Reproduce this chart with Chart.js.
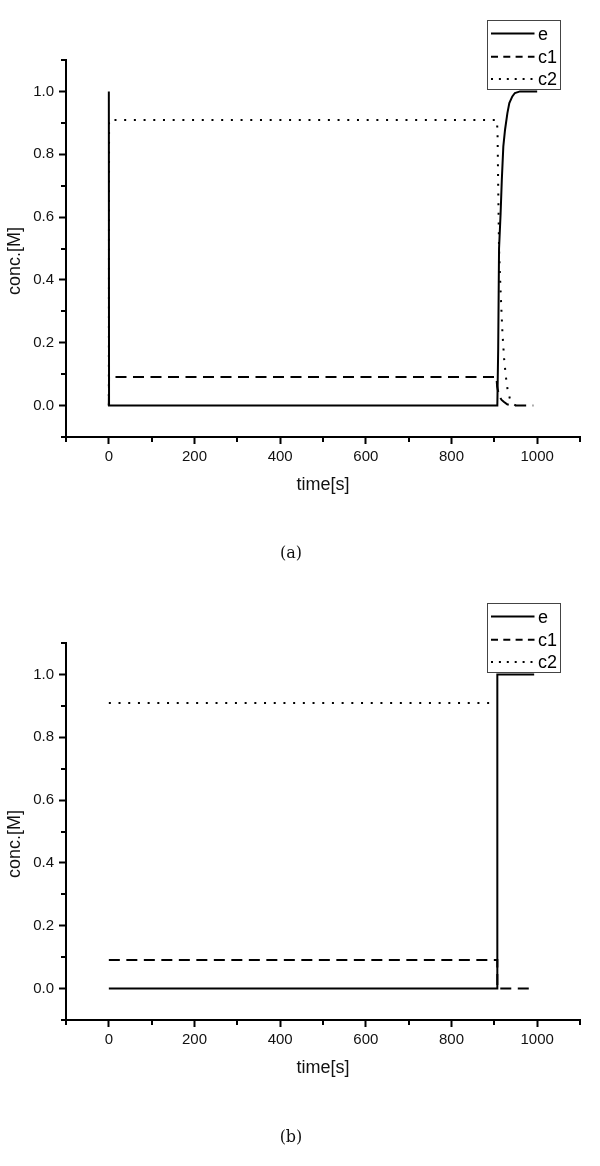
<!DOCTYPE html>
<html><head><meta charset="utf-8">
<script src="https://cdn.jsdelivr.net/npm/chart.js@4"></script>
<style>
html,body{margin:0;padding:0;background:#fff;}
#wrap{position:relative;width:600px;height:1166px;overflow:hidden;}
canvas{position:absolute;left:0;}
.cap{position:absolute;font-family:"DejaVu Serif","Liberation Serif",serif;font-size:16px;color:#111;width:100px;text-align:center;line-height:20px;}
</style></head><body>
<div id="wrap">
<canvas id="ca" width="600" height="583" style="top:0"></canvas>
<canvas id="cb" width="600" height="583" style="top:583px"></canvas>
<div class="cap" style="left:241px;top:543px">(a)</div>
<div class="cap" style="left:241px;top:1127px">(b)</div>
</div>
<script>
// ---- data ----
const seriesLabels = ['e', 'c1', 'c2'];
const xMajorTicks = [0, 200, 400, 600, 800, 1000];
const yMajorTicks = [0.0, 0.2, 0.4, 0.6, 0.8, 1.0];
const xAxisTitle = 'time[s]';
const yAxisTitle = 'conc.[M]';

// panel (a)
const timeA_e  = [0, 0.5, 907, 909, 911, 914.6, 917.5, 921, 925, 930.5, 935, 942, 948, 960, 1000];
const valA_e   = [1.0, 0, 0, 0.18, 0.5, 0.61, 0.72, 0.825, 0.878, 0.931, 0.963, 0.984, 0.995, 1.0, 1.0];
const timeA_c1 = [0, 0.5, 905, 906.5, 908, 912, 917, 922, 930, 940, 955, 991];
const valA_c1  = [0, 0.0909, 0.0909, 0.06, 0.05, 0.029, 0.018, 0.012, 0.004, 0.001, 0, 0];
const timeA_c2 = [0, 0.5, 906, 907.5, 909, 911, 913, 916, 919, 923, 927, 931, 937, 944, 950];
const valA_c2  = [0, 0.909, 0.909, 0.87, 0.7, 0.5, 0.42, 0.32, 0.23, 0.146, 0.092, 0.05, 0.018, 0.006, 0];

// panel (b)
const timeB_e  = [0, 907, 907, 993];
const valB_e   = [0, 0, 1.0, 1.0];
const timeB_c1 = [0, 907, 907, 990];
const valB_c1  = [0.0909, 0.0909, 0, 0];
const timeB_c2 = [0, 905];
const valB_c2  = [0.909, 0.909];

// ---- helpers ----
const FONT = '"Liberation Sans", Arial, Helvetica, sans-serif';
const zip = (xs, ys) => xs.map((x, i) => ({x: x, y: ys[i]}));
const isXMajor = v => xMajorTicks.some(t => Math.abs(t - v) < 1e-6);
const isYMajor = v => yMajorTicks.some(t => Math.abs(t - v) < 1e-6);

const styles = [
  {dash: [], legendDash: []},
  {dash: [11, 6.5], legendDash: [7, 5.3]},
  {dash: [2, 7.7], legendDash: [2, 5.9]}
];

const minorTicks = {
  id: 'minorTicks',
  afterDraw(chart) {
    const ctx = chart.ctx, xs = chart.scales.x, ys = chart.scales.y, a = chart.chartArea;
    ctx.save();
    ctx.strokeStyle = '#000';
    ctx.lineWidth = 2;
    xs.ticks.forEach(t => {
      if (!isXMajor(t.value)) {
        const px = Math.round(xs.getPixelForValue(t.value));
        ctx.beginPath(); ctx.moveTo(px, a.bottom); ctx.lineTo(px, a.bottom + 5); ctx.stroke();
      }
    });
    ys.ticks.forEach(t => {
      if (!isYMajor(t.value)) {
        const py = Math.round(ys.getPixelForValue(t.value));
        ctx.beginPath(); ctx.moveTo(a.left, py); ctx.lineTo(a.left - 5, py); ctx.stroke();
      }
    });
    ctx.restore();
  }
};

const boxLegend = {
  id: 'boxLegend',
  afterDraw(chart) {
    const ctx = chart.ctx;
    const L = 487.5, T = 20.5, W = 73, H = 69;
    const rowY = [33.5, 56.8, 79];
    ctx.save();
    ctx.fillStyle = '#fff';
    ctx.fillRect(L, T, W, H);
    ctx.strokeStyle = '#444'; ctx.lineWidth = 1; ctx.setLineDash([]);
    ctx.strokeRect(L, T, W, H);
    chart.data.datasets.forEach((ds, i) => {
      const y = rowY[i];
      ctx.setLineDash(styles[i].legendDash);
      ctx.lineWidth = 2; ctx.strokeStyle = '#000';
      ctx.beginPath(); ctx.moveTo(491, y); ctx.lineTo(534.5, y); ctx.stroke();
      ctx.setLineDash([]);
      ctx.fillStyle = '#000';
      ctx.font = '18px ' + FONT;
      ctx.textBaseline = 'alphabetic';
      ctx.textAlign = 'left';
      ctx.fillText(ds.label, 538, y + 6);
    });
    ctx.restore();
  }
};

function makeChart(id, series) {
  const datasets = series.map((s, i) => ({
    label: seriesLabels[i],
    data: zip(s[0], s[1]),
    borderColor: '#000',
    backgroundColor: '#000',
    borderWidth: 2,
    borderDash: styles[i].dash,
    borderCapStyle: 'butt',
    pointRadius: 0,
    tension: 0,
    fill: false
  }));
  return new Chart(document.getElementById(id), {
    type: 'line',
    data: {datasets: datasets},
    plugins: [minorTicks, boxLegend],
    options: {
      responsive: false,
      animation: false,
      devicePixelRatio: 1,
      layout: {padding: {left: 0, right: 20, top: 60, bottom: 0}},
      plugins: {legend: {display: false}, tooltip: {enabled: false}},
      scales: {
        x: {
          type: 'linear', min: -100, max: 1100,
          afterFit: s => { s.height = 146; },
          border: {display: true, color: '#000', width: 2},
          grid: {drawOnChartArea: false, drawTicks: true, tickLength: 7, tickWidth: 2,
                 tickColor: c => (c.tick && isXMajor(c.tick.value)) ? '#000' : 'rgba(0,0,0,0)'},
          ticks: {stepSize: 100, autoSkip: false, maxRotation: 0, padding: 4, color: '#111',
                  font: {family: FONT, size: 15},
                  callback: v => isXMajor(v) ? String(Math.round(v)) : ''},
          title: {display: true, text: xAxisTitle, color: '#111', font: {family: FONT, size: 18},
                  padding: {top: 0, bottom: 87}}
        },
        y: {
          type: 'linear', min: -0.1, max: 1.1,
          afterFit: s => { s.width = 66; },
          border: {display: true, color: '#000', width: 2},
          grid: {drawOnChartArea: false, drawTicks: true, tickLength: 7, tickWidth: 2,
                 tickColor: c => (c.tick && isYMajor(c.tick.value)) ? '#000' : 'rgba(0,0,0,0)'},
          ticks: {stepSize: 0.1, autoSkip: false, padding: 5, color: '#111',
                  font: {family: FONT, size: 15},
                  callback: v => isYMajor(v) ? v.toFixed(1) : ''},
          title: {display: true, text: yAxisTitle + '\u00a0\u00a0\u00a0\u00a0\u00a0', color: '#111',
                  font: {family: FONT, size: 18}, padding: {top: 4, bottom: 0}}
        }
      }
    }
  });
}

makeChart('ca', [[timeA_e, valA_e], [timeA_c1, valA_c1], [timeA_c2, valA_c2]]);
makeChart('cb', [[timeB_e, valB_e], [timeB_c1, valB_c1], [timeB_c2, valB_c2]]);
</script>
</body></html>
